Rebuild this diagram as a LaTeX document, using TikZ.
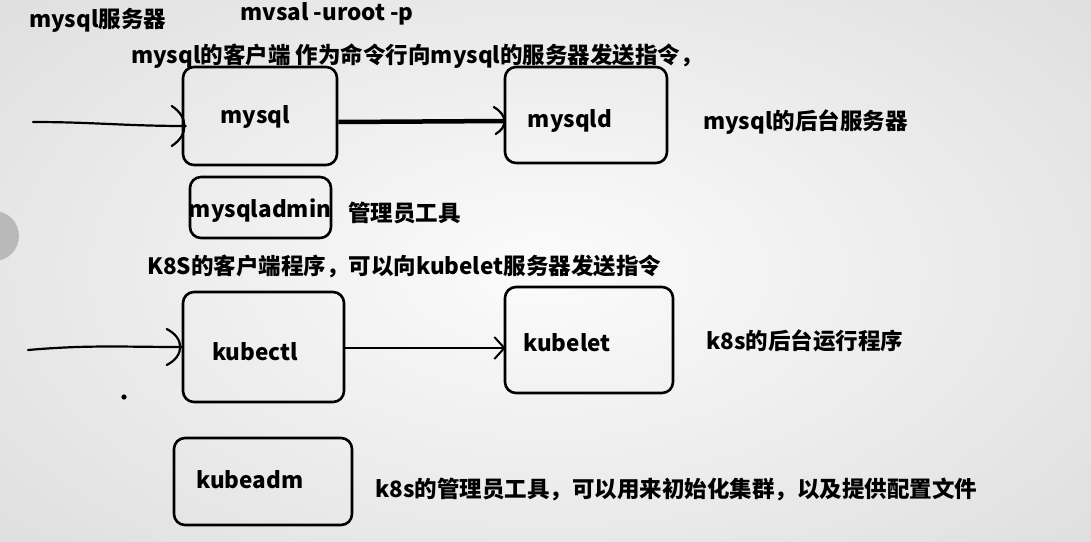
\documentclass[tikz,border=0pt]{standalone}
\usepackage{fontspec}
\setmainfont{Noto Sans CJK SC}
\usetikzlibrary{arrows.meta}
\begin{document}
\begin{tikzpicture}[x=1pt,y=-1pt,
  box/.style={draw=black,line width=2.6pt,rounded corners=11pt,inner sep=0pt},
  txt/.style={font=\fontsize{22.5}{26}\selectfont\bfseries,inner sep=0pt,anchor=west},
  ctxt/.style={font=\fontsize{22.5}{26}\selectfont\bfseries,inner sep=0pt},
  conn/.style={line width=2.2pt,line cap=round},
  headarc/.style={line width=2.2pt,line cap=round},
  fwarrow/.style={line width=2.2pt,-{Straight Barb[length=10pt,width=22pt,line width=2pt]}}]
\useasboundingbox (0,0) rectangle (1091,541);
\clip (0,0) rectangle (1091,541);
\shade[inner color=gray!3,outer color=gray!24] (-150,-120) rectangle (1241,661);
% partial grey circle at left edge
\fill[gray!55] (-6,236) circle (25pt);
% top texts
\node[txt] (t1) at (29,20) {mysql服务器};
\node[txt] (t2) at (240,14) {mvsal -uroot -p};
\node[txt] (t3) at (131,56) {mysql的客户端 作为命令行向mysql的服务器发送指令，};
% mysql row
\node[box,minimum width=154pt,minimum height=98pt] (mysql) at (260,116) {};
\node[ctxt] (lmysql) at (255,117) {mysql};
\node[box,minimum width=162pt,minimum height=96pt] (mysqld) at (586,115) {};
\node[ctxt] (lmysqld) at (570,121) {mysqld};
\node[txt] (t4) at (703,122) {mysql的后台服务器};
\coordinate (in1) at (33,122);
\coordinate (tip1) at ([xshift=4pt,yshift=-10pt]mysql.west);
\draw[conn] (in1) to[out=0,in=180] (tip1);
\draw[headarc] ([shift={(-14,-20)}]tip1) .. controls ([shift={(3,-9)}]tip1) and ([shift={(3,9)}]tip1) .. ([shift={(-14,20)}]tip1);
\coordinate (tip2) at ([xshift=2pt,yshift=-6pt]mysqld.west);
\draw[line width=4.5pt] ([yshift=-6pt]mysql.east) -- (tip2);
\draw[headarc] ([shift={(-12,-14)}]tip2) .. controls ([shift={(2,-6)}]tip2) and ([shift={(2,6)}]tip2) .. ([shift={(-10,13)}]tip2);
% mysqladmin
\node[box,minimum width=141pt,minimum height=61pt] (madmin) at (260.5,207.5) {};
\node[ctxt] (lmadmin) at (260,211) {mysqladmin};
\node[txt] (t5) at (348,213) {管理员工具};
% k8s row
\node[txt] (t6) at (147,266) {K8S的客户端程序，可以向kubelet服务器发送指令};
\node[box,minimum width=161pt,minimum height=110pt] (kubectl) at (263.5,347) {};
\node[ctxt] (lkubectl) at (255,352) {kubectl};
\node[box,minimum width=168pt,minimum height=106pt] (kubelet) at (589,340) {};
\node[ctxt] (lkubelet) at (567,343) {kubelet};
\node[txt] (t7) at (706,341) {k8s的后台运行程序};
\coordinate (in2) at (28,350);
\coordinate (tip3) at ([xshift=1pt]kubectl.west);
\draw[conn] (in2) to[out=5,in=180] (tip3);
\draw[headarc] ([shift={(-16,-18)}]tip3) .. controls ([shift={(2,-9)}]tip3) and ([shift={(2,9)}]tip3) .. ([shift={(-16,18)}]tip3);
\draw[fwarrow] ([yshift=-1pt]kubectl.east) -- ([xshift=2pt,yshift=-8pt]kubelet.west);
\fill (124,397) circle (2.6pt);
% kubeadm
\node[box,minimum width=178pt,minimum height=87pt] (kubeadm) at (263,481.5) {};
\node[ctxt] (lkubeadm) at (250,480) {kubeadm};
\node[txt] (t8) at (375,489) {k8s的管理员工具，可以用来初始化集群，以及提供配置文件};
\end{tikzpicture}
\end{document}
